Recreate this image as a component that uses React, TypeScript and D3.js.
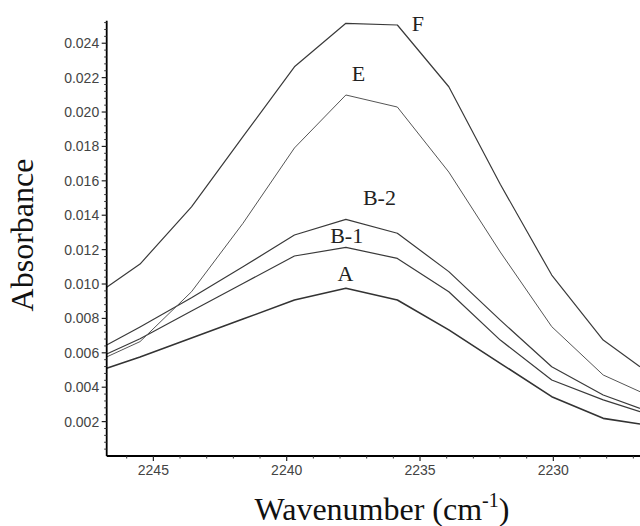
import React from "react";
import * as d3 from "d3";

const wavenumbers = [2246.75, 2245.5, 2243.57, 2241.64, 2239.71, 2237.78, 2235.85, 2233.92, 2231.99, 2230.06, 2228.13, 2226.75];

const seriesA = [0.0051, 0.00576, 0.00686, 0.00796, 0.00907, 0.00975, 0.00907, 0.00733, 0.00539, 0.00345, 0.00219, 0.00186];
const seriesB1 = [0.00593, 0.00682, 0.00843, 0.01003, 0.01163, 0.01213, 0.01149, 0.00955, 0.00674, 0.00442, 0.00326, 0.00258];
const seriesB2 = [0.00645, 0.0075, 0.0092, 0.011, 0.01285, 0.01376, 0.01295, 0.01072, 0.0079, 0.00519, 0.00355, 0.00277];
const seriesE = [0.00576, 0.00665, 0.00955, 0.01353, 0.01791, 0.02099, 0.02029, 0.01651, 0.01186, 0.00752, 0.00471, 0.00374];
const seriesF = [0.00981, 0.01116, 0.01449, 0.01857, 0.02263, 0.02516, 0.02506, 0.02147, 0.0158, 0.01052, 0.00674, 0.00519];

const seriesNames = ["A", "B-1", "B-2", "E", "F"];
const seriesValues = [seriesA, seriesB1, seriesB2, seriesE, seriesF];

// label anchors (wavenumber, absorbance)
const labelX = [2238.09, 2238.37, 2237.14, 2237.56, 2235.31];
const labelY = [0.0102, 0.01241, 0.01459, 0.02182, 0.02473];

const xMajorTicks = [2245, 2240, 2235, 2230];
const yMajorTicks = [0.002, 0.004, 0.006, 0.008, 0.01, 0.012, 0.014, 0.016, 0.018, 0.02, 0.022, 0.024];

const W = 640;
const H = 526;
const left = 106.7;
const right = 640;
const top = 20.7;
const bottom = 456;

export default function App() {
  const x = d3.scaleLinear().domain([2246.75, 2226.75]).range([left, right]);
  const y = d3.scaleLinear().domain([0, 0.02531]).range([bottom, top]);

  const xMinor = d3.range(2227, 2247, 1).filter((v) => !xMajorTicks.includes(v));
  const yMinor = d3
    .range(1, 64)
    .map((i) => +(i * 0.0004).toFixed(4))
    .filter((v) => v <= 0.0253 && Math.abs((v / 0.002) - Math.round(v / 0.002)) > 1e-6);

  const line = d3
    .line<number>()
    .x((_, i) => x(wavenumbers[i]))
    .y((d) => y(d));

  const fmt = d3.format(".3f");

  return (
    <svg width={W} height={H} style={{ position: "absolute", left: 0, top: 0, background: "#fff" }}>
      <defs>
        <clipPath id="plot">
          <rect x={left} y={top} width={right - left} height={bottom - top} />
        </clipPath>
      </defs>
      <g clipPath="url(#plot)" fill="none">
        {seriesValues.map((vals, k) => (
          <path
            key={seriesNames[k]}
            d={line(vals) || ""}
            stroke={k === 0 ? "#333" : k === 3 ? "#555" : "#3a3a3a"}
            strokeWidth={k === 0 ? 1.6 : k === 3 ? 1 : 1.2}
            strokeLinejoin="round"
          />
        ))}
      </g>
      {seriesNames.map((n, k) => (
        <text
          key={n}
          x={x(labelX[k])}
          y={y(labelY[k])}
          fontFamily="'Liberation Serif', 'Times New Roman', serif"
          fontSize={22}
          fill="#222"
        >
          {n}
        </text>
      ))}
      {/* axes */}
      <line x1={left} x2={left} y1={top} y2={bottom} stroke="#000" strokeWidth={1.8} />
      <line x1={left} x2={right} y1={bottom} y2={bottom} stroke="#000" strokeWidth={1.8} />
      {yMinor.map((v) => (
        <line key={"ym" + v} x1={left - 2.5} x2={left} y1={y(v)} y2={y(v)} stroke="#333" strokeWidth={1} />
      ))}
      {yMajorTicks.map((v) => (
        <g key={"y" + v}>
          <line x1={left - 5} x2={left} y1={y(v)} y2={y(v)} stroke="#222" strokeWidth={1.2} />
          <text
            x={left - 7.5}
            y={y(v)}
            dy="0.35em"
            textAnchor="end"
            fontFamily="'Liberation Sans', Arial, sans-serif"
            fontSize={14}
            fill="#444"
          >
            {fmt(v)}
          </text>
        </g>
      ))}
      {xMinor.map((v) => (
        <line key={"xm" + v} x1={x(v)} x2={x(v)} y1={bottom} y2={bottom + 2.5} stroke="#333" strokeWidth={1} />
      ))}
      {xMajorTicks.map((v) => (
        <g key={"x" + v}>
          <line x1={x(v)} x2={x(v)} y1={bottom} y2={bottom + 5} stroke="#222" strokeWidth={1.2} />
          <text
            x={x(v)}
            y={475}
            textAnchor="middle"
            fontFamily="'Liberation Sans', Arial, sans-serif"
            fontSize={14}
            fill="#444"
          >
            {v}
          </text>
        </g>
      ))}
      <text
        transform={`translate(33,235) rotate(-90)`}
        textAnchor="middle"
        fontFamily="'Liberation Serif', 'Times New Roman', serif"
        fontSize={32}
        fill="#111"
      >
        Absorbance
      </text>
      <text
        x={382}
        y={520}
        textAnchor="middle"
        fontFamily="'Liberation Serif', 'Times New Roman', serif"
        fontSize={32}
        fill="#111"
      >
        Wavenumber (cm
        <tspan fontSize={20} dy={-13}>-1</tspan>
        <tspan dy={13}>)</tspan>
      </text>
    </svg>
  );
}
